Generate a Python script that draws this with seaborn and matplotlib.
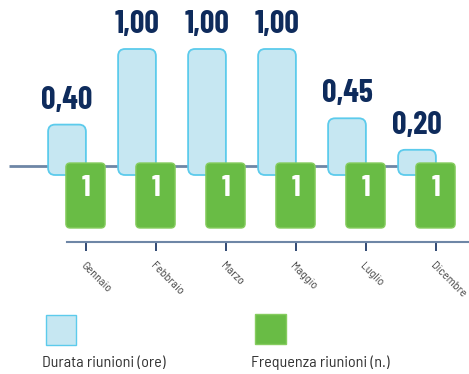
import matplotlib
matplotlib.use("Agg")
import matplotlib.pyplot as plt
import seaborn as sns
import pandas as pd
from matplotlib.patches import FancyBboxPatch

# ---- data ----
months = ["Gennaio", "Febbraio", "Marzo", "Maggio", "Luglio", "Dicembre"]
durata = [0.40, 1.00, 1.00, 1.00, 0.45, 0.20]
frequenza = [1, 1, 1, 1, 1, 1]
durata_labels = ["0,40", "1,00", "1,00", "1,00", "0,45", "0,20"]
frequenza_labels = ["1", "1", "1", "1", "1", "1"]
legend_labels = ["Durata riunioni (ore)", "Frequenza riunioni (n.)"]

sns.set_theme(style="white")
BIG = ["Barlow Condensed", "DejaVu Sans"]
SMALL = ["Barlow Semi Condensed", "DejaVu Sans"]
plt.rcParams["font.family"] = SMALL

BLUE_FILL = "#c6e7f2"
BLUE_EDGE = "#5ccbec"
GREEN_FILL = "#69bc45"
GREEN_EDGE = "#86cc5f"
NAVY = "#0e2b5c"

W, H = 469, 374
fig = plt.figure(figsize=(W / 100, H / 100), dpi=100)

XL = ((0 - 67) / 70, (W - 67) / 70)

# main axes covering the figure; px -> data mapping
ax = fig.add_axes([0, 0, 1, 1])
df = pd.DataFrame({"month": months, "durata": durata, "frequenza": frequenza})
df["x"] = range(len(months))

sns.barplot(data=df, x="month", y="durata", ax=ax, width=0.54,
            color=BLUE_FILL, zorder=2)
ax.set_xlim(*XL)
ax.set_ylim(-(H - 175) / 126, 175 / 126)

# baseline line
ax.plot([(9 - 67) / 70, (420 - 67) / 70], [(175 - 165.5) / 126] * 2,
        color="#6e86a6", lw=2, zorder=1, solid_capstyle="butt")

# replace blue bars by rounded boxes
blue_patches = list(ax.patches)
for p, lab in zip(blue_patches, durata_labels):
    x0, y0, w, h = p.get_x(), p.get_y(), p.get_width(), p.get_height()
    p.remove()
    fb = FancyBboxPatch((x0, y0), w, h,
                        boxstyle="round,pad=0,rounding_size=0.1",
                        mutation_aspect=70 / 126,
                        facecolor=BLUE_FILL, edgecolor=BLUE_EDGE, lw=1.3, zorder=2)
    ax.add_patch(fb)
    ax.text(x0 + w / 2, y0 + h + 10 / 126, lab, ha="center", va="bottom",
            fontsize=23, fontweight="bold", color=NAVY, family=BIG)

# green bars on twin axis (downward)
ax2 = fig.add_axes([0, 0, 1, 1], sharex=ax)
ax2.patch.set_alpha(0)
off = 18.5 / 70
ax2.bar([i + off for i in df["x"]], frequenza, width=0.56,
        color=GREEN_FILL, zorder=3)
ax2.set_ylim((H - 163) / 65, -163 / 65)
for p, lab in zip(list(ax2.patches), frequenza_labels):
    x0, y0, w, h = p.get_x(), p.get_y(), p.get_width(), p.get_height()
    ylo, hh = min(y0, y0 + h), abs(h)
    p.remove()
    fb = FancyBboxPatch((x0, ylo), w, hh,
                        boxstyle="round,pad=0,rounding_size=0.06",
                        mutation_aspect=70 / 65,
                        facecolor=GREEN_FILL, edgecolor=GREEN_EDGE, lw=1.0, zorder=3)
    ax2.add_patch(fb)
    ax2.text(x0 + w / 2, ylo + 25 / 65, lab, ha="center", va="center",
             fontsize=22, fontweight="bold", color="white", family=BIG)

for a in (ax, ax2):
    for s in a.spines.values():
        s.set_visible(False)
    a.set_yticks([])
    a.set_xlabel("")
    a.set_ylabel("")

# category axis
ax2.spines["bottom"].set_visible(True)
ax2.spines["bottom"].set_position(("data", (242 - 163) / 65))
ax2.spines["bottom"].set_bounds(0, XL[1])
ax2.spines["bottom"].set_color("#6e86a6")
ax2.spines["bottom"].set_linewidth(1.5)
ax2.set_xticks([i + off for i in df["x"]])
ax2.set_xticklabels(months, rotation=-45, ha="left", va="top",
                    rotation_mode="anchor", fontsize=8.7, color="#444444",
                    family=SMALL)
ax2.tick_params(axis="x", bottom=True, direction="out", length=6.5,
                width=1.2, color=NAVY, pad=7)
ax.tick_params(axis="x", bottom=False, labelbottom=False)
ax2.set_xlim(*XL)

# legend
def px_rect(x, y, w, h, fc, ec):
    fig.patches.append(plt.Rectangle((x / W, 1 - (y + h) / H), w / W, h / H,
                                     transform=fig.transFigure, facecolor=fc,
                                     edgecolor=ec, lw=1.0))

px_rect(46, 315, 30, 30, BLUE_FILL, BLUE_EDGE)
px_rect(255, 314, 31, 30, GREEN_FILL, GREEN_EDGE)
fig.text(42 / W, 1 - 363 / H, legend_labels[0], ha="left", va="center",
         fontsize=11.6, color="#333333", family=SMALL)
fig.text(251 / W, 1 - 363 / H, legend_labels[1], ha="left", va="center",
         fontsize=11.6, color="#333333", family=SMALL)

fig.savefig("out.png", dpi=100)
